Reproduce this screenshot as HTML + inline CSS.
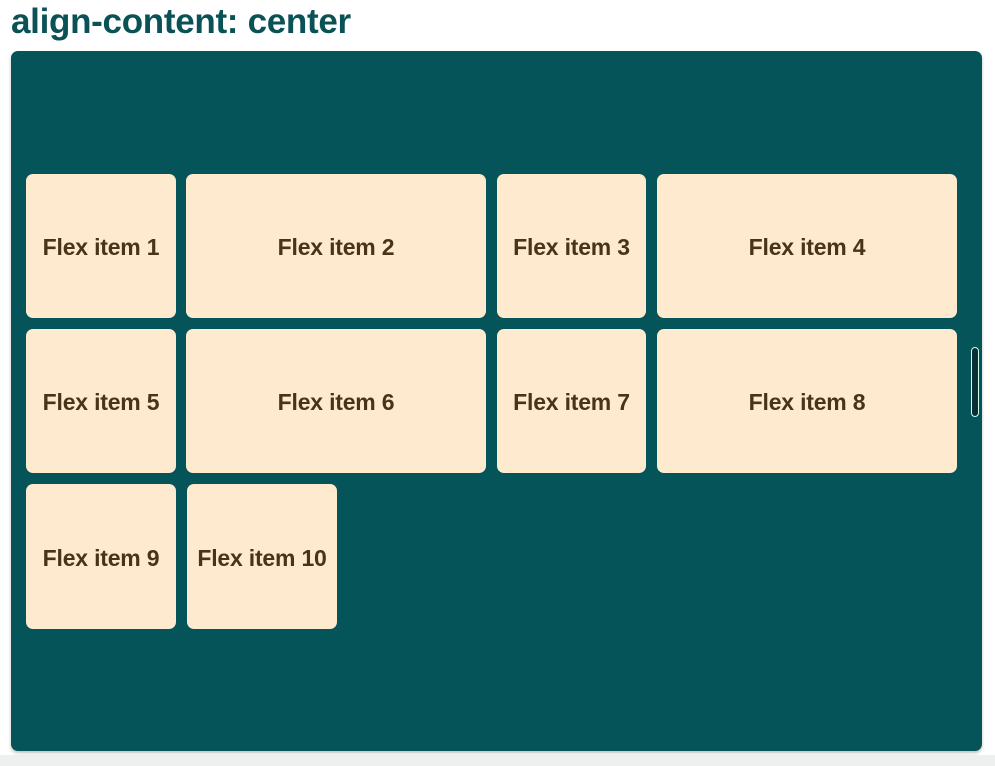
<!DOCTYPE html>
<html><head><style>
body{margin:0;width:995px;height:766px;background:#fff;position:relative;overflow:hidden;font-family:"Liberation Sans",sans-serif}
h1{position:absolute;left:11px;top:2px;margin:0;font-size:35px;font-weight:bold;color:#0b5257;letter-spacing:-0.3px}
.c{position:absolute;left:11px;top:51px;width:971px;height:700px;background:#04545a;border-radius:7px;box-shadow:0 2px 3px rgba(0,0,0,.25)}
.i{position:absolute;background:#feeacf;border-radius:7px;display:flex;align-items:center;justify-content:center;font-weight:bold;font-size:23px;color:#4a3419;letter-spacing:-0.2px;padding-top:3px;box-sizing:border-box}
.sb{position:absolute;left:971px;top:347px;width:6px;height:68px;border:1px solid #cfe;border-radius:4px;background:#0a2f33}
.bot{position:absolute;left:0;top:755px;width:995px;height:11px;background:#eef0f0}
</style></head><body>
<h1>align-content: center</h1>
<div class="bot"></div>
<div class="c"></div>
<div class="i" style="left:26px;top:174px;width:150px;height:144px">Flex item 1</div>
<div class="i" style="left:186px;top:174px;width:300px;height:144px">Flex item 2</div>
<div class="i" style="left:497px;top:174px;width:149px;height:144px">Flex item 3</div>
<div class="i" style="left:657px;top:174px;width:300px;height:144px">Flex item 4</div>
<div class="i" style="left:26px;top:329px;width:150px;height:144px">Flex item 5</div>
<div class="i" style="left:186px;top:329px;width:300px;height:144px">Flex item 6</div>
<div class="i" style="left:497px;top:329px;width:149px;height:144px">Flex item 7</div>
<div class="i" style="left:657px;top:329px;width:300px;height:144px">Flex item 8</div>
<div class="i" style="left:26px;top:484px;width:150px;height:145px">Flex item 9</div>
<div class="i" style="left:187px;top:484px;width:150px;height:145px">Flex item 10</div>
<div class="sb"></div>
</body></html>
